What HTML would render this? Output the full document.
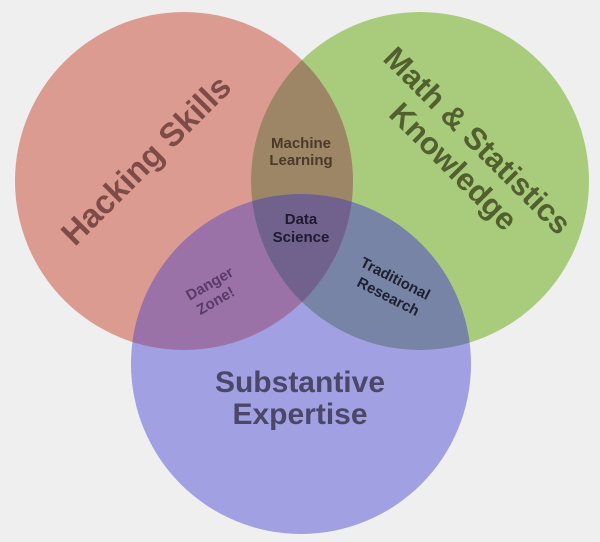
<!DOCTYPE html>
<html><head><style>
html,body{margin:0;padding:0;background:#efefef;}
svg{display:block;}
text{font-family:"Liberation Sans",sans-serif;font-weight:bold;text-anchor:middle;}
</style></head><body>
<svg width="600" height="542" viewBox="0 0 600 542">
<defs>
<clipPath id="cr"><circle cx="184" cy="181" r="169"/></clipPath>
<clipPath id="cg"><circle cx="420" cy="181" r="169"/></clipPath>
<clipPath id="cb"><circle cx="301" cy="364" r="170"/></clipPath>
</defs>
<rect width="600" height="542" fill="#efefef"/>
<circle cx="184" cy="181" r="169" fill="#dc9b91"/>
<circle cx="420" cy="181" r="169" fill="#a9cc7c"/>
<circle cx="301" cy="364" r="170" fill="#a0a0e2"/>
<g clip-path="url(#cr)"><circle cx="420" cy="181" r="169" fill="#9d8666"/></g>
<g clip-path="url(#cr)"><circle cx="301" cy="364" r="170" fill="#9a72a8"/></g>
<g clip-path="url(#cg)"><circle cx="301" cy="364" r="170" fill="#7884a6"/></g>
<g clip-path="url(#cr)"><g clip-path="url(#cg)"><circle cx="301" cy="364" r="170" fill="#70628c"/></g></g>
<text transform="translate(154,168) rotate(-45)" font-size="33" fill="#7e4c47">Hacking Skills</text>
<text transform="translate(470,148) rotate(45)" font-size="31" fill="#52602f">Math &amp; Statistics</text>
<text transform="translate(446,174) rotate(45)" font-size="31" fill="#52602f">Knowledge</text>
<text x="301" y="148" font-size="15" fill="#4a3a28">Machine</text>
<text x="301" y="165" font-size="15" fill="#4a3a28">Learning</text>
<text x="301" y="224" font-size="15" fill="#1e1a30">Data</text>
<text x="301" y="242" font-size="15" fill="#1e1a30">Science</text>
<text transform="translate(212,288) rotate(-30)" font-size="15" fill="#5a3a66">Danger</text>
<text transform="translate(218,305) rotate(-30)" font-size="15" fill="#5a3a66">Zone!</text>
<text transform="translate(393,283) rotate(27)" font-size="15" fill="#1e2030">Traditional</text>
<text transform="translate(386,301) rotate(27)" font-size="15" fill="#1e2030">Research</text>
<text x="300" y="392" font-size="30" fill="#4a4866">Substantive</text>
<text x="300" y="424" font-size="30" fill="#4a4866">Expertise</text>
</svg>
</body></html>
